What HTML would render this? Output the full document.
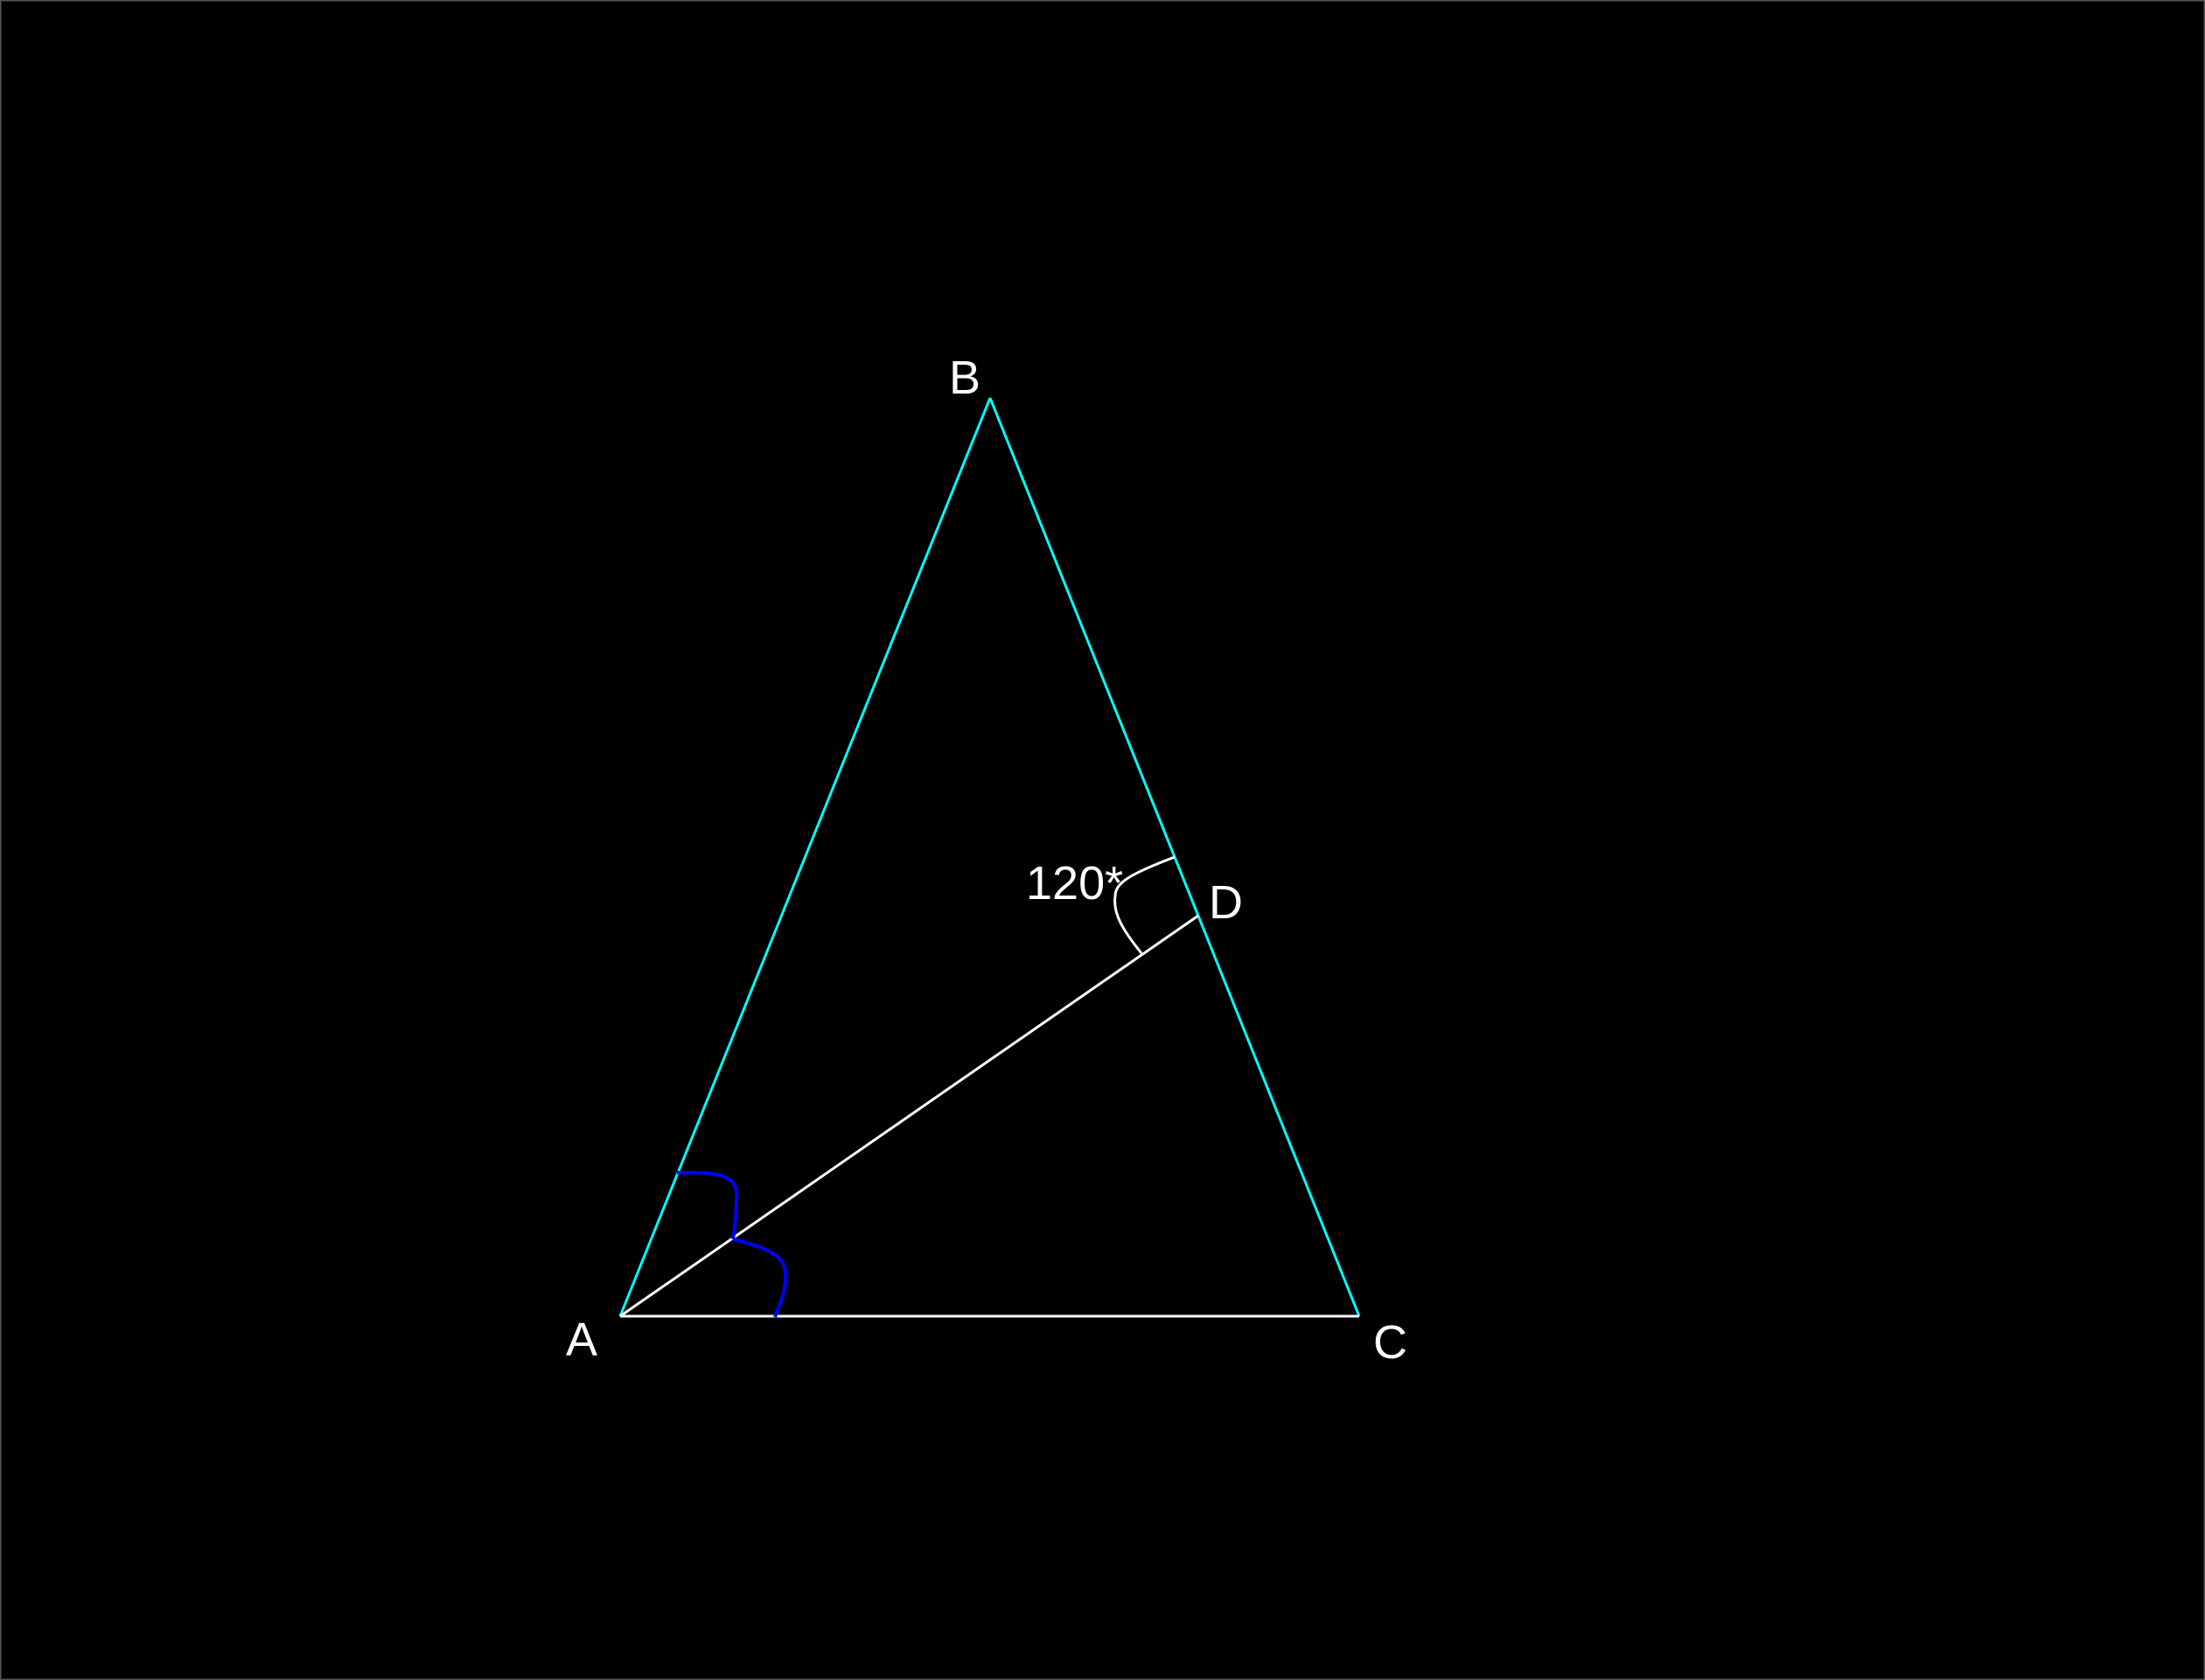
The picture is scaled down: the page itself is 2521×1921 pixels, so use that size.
<!DOCTYPE html>
<html><head><meta charset="utf-8"><style>
html,body{margin:0;padding:0;background:#000;}
svg{display:block;}
text{font-family:"Liberation Sans",sans-serif;fill:#fff;font-size:54px;}
</style></head><body>
<svg width="2521" height="1921" viewBox="0 0 2521 1921">
<rect x="0.5" y="0.5" width="2520" height="1920" fill="#000" stroke="#555" stroke-width="2"/>
<line x1="709" y1="1505" x2="1132" y2="455" stroke="#00ffff" stroke-width="3"/>
<line x1="1132" y1="455" x2="1554" y2="1505" stroke="#00ffff" stroke-width="3"/>
<line x1="709" y1="1505" x2="1554" y2="1505" stroke="#fff" stroke-width="3"/>
<line x1="709" y1="1505" x2="1370" y2="1047" stroke="#fff" stroke-width="3"/>
<path d="M1343 980 C1290 1000 1275 1010 1275 1025 C1272 1045 1285 1065 1305 1090" fill="none" stroke="#fff" stroke-width="3"/>
<path d="M774 1341 C830 1340 845 1345 842 1375 C841 1395 840 1405 838 1417" fill="none" stroke="#0000ff" stroke-width="4"/>
<path d="M838 1417 C890 1430 900 1440 898 1465 C897 1480 892 1490 886 1506" fill="none" stroke="#0000ff" stroke-width="4"/>
<text x="1085" y="450">B</text>
<text x="647" y="1550">A</text>
<text x="1570" y="1553">C</text>
<text x="1382" y="1050">D</text>
<text x="1173" y="1028">120*</text>
</svg>
</body></html>
